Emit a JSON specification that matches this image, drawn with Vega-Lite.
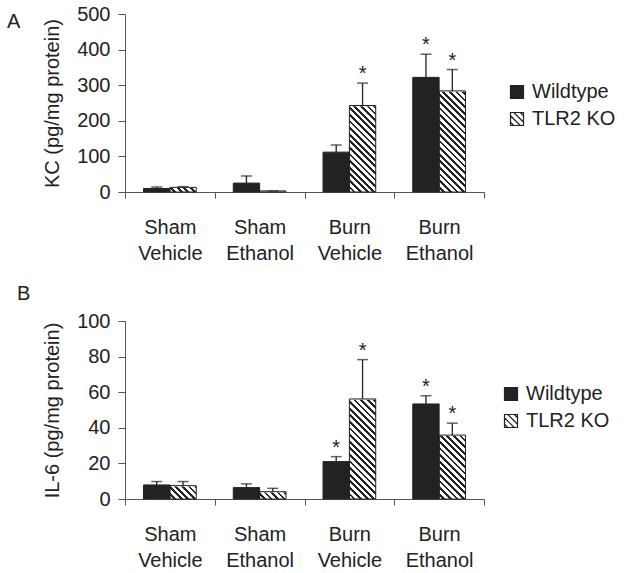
{
"$schema": "https://vega.github.io/schema/vega-lite/v6.json",
"padding": {"left": 7, "top": 4, "right": 0, "bottom": 0},
"spacing": 21,
"background": "white",
"config": {
 "font": "Liberation Sans",
 "view": {"stroke": null},
 "axis": {"labelFont": "Liberation Sans", "titleFont": "Liberation Sans", "labelFontSize": 20, "titleFontSize": 20, "titleFontWeight": "normal", "labelColor": "#222222", "titleColor": "#222222", "domainColor": "#555555", "tickColor": "#555555", "domainWidth": 1, "tickWidth": 1, "grid": false},
 "axisY": {"labelOverlap": false, "labelFlush": false, "labelSeparation": -40},
 "legend": {"labelFont": "Liberation Sans", "labelFontSize": 20, "labelColor": "#222222", "symbolSize": 169, "symbolStrokeWidth": 1.2, "symbolOpacity": 1, "labelOffset": 5, "rowPadding": 7, "padding": 0},
 "text": {"font": "Liberation Sans"}
},
"resolve": {"scale": {"fill": "independent", "shape": "independent", "stroke": "independent", "y": "independent"}, "legend": {"fill": "independent", "shape": "independent", "stroke": "independent"}},
"vconcat": [
{
 "width": 359, "height": 178,
 "title": {"text": "A", "anchor": "start", "frame": "group", "orient": "top", "baseline": "alphabetic", "offset": 0, "dx": -118, "dy": 44, "fontSize": 20, "fontWeight": "normal", "color": "#222222", "font": "Liberation Sans"},
 "data": {"values": [
  {"cond": "Sham Vehicle", "genotype": "Wildtype", "value": 10, "hi": 14, "star": false},
  {"cond": "Sham Vehicle", "genotype": "TLR2 KO", "value": 13, "hi": 15, "star": false},
  {"cond": "Sham Ethanol", "genotype": "Wildtype", "value": 25, "hi": 45, "star": false},
  {"cond": "Sham Ethanol", "genotype": "TLR2 KO", "value": 3, "hi": 3, "star": false},
  {"cond": "Burn Vehicle", "genotype": "Wildtype", "value": 112, "hi": 132, "star": false},
  {"cond": "Burn Vehicle", "genotype": "TLR2 KO", "value": 243, "hi": 306, "star": true},
  {"cond": "Burn Ethanol", "genotype": "Wildtype", "value": 322, "hi": 387, "star": true},
  {"cond": "Burn Ethanol", "genotype": "TLR2 KO", "value": 284, "hi": 344, "star": true}
 ]},
 "encoding": {
  "x": {"field": "cond", "type": "nominal", "sort": ["Sham Vehicle", "Sham Ethanol", "Burn Vehicle", "Burn Ethanol"], "scale": {"paddingInner": 0, "paddingOuter": 0}, "axis": {"title": null, "labelAngle": 0, "labelExpr": "split(datum.label, ' ')", "labelLineHeight": 26, "tickBand": "extent", "tickSize": 6, "labelPadding": 19}},
  "xOffset": {"field": "genotype", "type": "nominal", "scale": {"domain": ["Wildtype", "TLR2 KO"], "paddingInner": 0, "paddingOuter": 0.703}}
 },
 "layer": [
  {"transform": [{"filter": "datum.genotype === 'TLR2 KO'"}],
   "mark": {"type": "bar", "strokeWidth": 0, "fill": {"gradient": "linear", "x1": 1, "y1": 0, "x2": 0.8337, "y2": 1.1234, "stops": [
{"offset":0,"color":"#222222"},{"offset":0.01355,"color":"#222222"},{"offset":0.01355,"color":"#ffffff"},{"offset":0.03226,"color":"#ffffff"},
{"offset":0.03226,"color":"#222222"},{"offset":0.04581,"color":"#222222"},{"offset":0.04581,"color":"#ffffff"},{"offset":0.06452,"color":"#ffffff"},
{"offset":0.06452,"color":"#222222"},{"offset":0.07807,"color":"#222222"},{"offset":0.07807,"color":"#ffffff"},{"offset":0.09677,"color":"#ffffff"},
{"offset":0.09677,"color":"#222222"},{"offset":0.11032,"color":"#222222"},{"offset":0.11032,"color":"#ffffff"},{"offset":0.12903,"color":"#ffffff"},
{"offset":0.12903,"color":"#222222"},{"offset":0.14258,"color":"#222222"},{"offset":0.14258,"color":"#ffffff"},{"offset":0.16129,"color":"#ffffff"},
{"offset":0.16129,"color":"#222222"},{"offset":0.17484,"color":"#222222"},{"offset":0.17484,"color":"#ffffff"},{"offset":0.19355,"color":"#ffffff"},
{"offset":0.19355,"color":"#222222"},{"offset":0.2071,"color":"#222222"},{"offset":0.2071,"color":"#ffffff"},{"offset":0.22581,"color":"#ffffff"},
{"offset":0.22581,"color":"#222222"},{"offset":0.23936,"color":"#222222"},{"offset":0.23936,"color":"#ffffff"},{"offset":0.25806,"color":"#ffffff"},
{"offset":0.25806,"color":"#222222"},{"offset":0.27161,"color":"#222222"},{"offset":0.27161,"color":"#ffffff"},{"offset":0.29032,"color":"#ffffff"},
{"offset":0.29032,"color":"#222222"},{"offset":0.30387,"color":"#222222"},{"offset":0.30387,"color":"#ffffff"},{"offset":0.32258,"color":"#ffffff"},
{"offset":0.32258,"color":"#222222"},{"offset":0.33613,"color":"#222222"},{"offset":0.33613,"color":"#ffffff"},{"offset":0.35484,"color":"#ffffff"},
{"offset":0.35484,"color":"#222222"},{"offset":0.36839,"color":"#222222"},{"offset":0.36839,"color":"#ffffff"},{"offset":0.3871,"color":"#ffffff"},
{"offset":0.3871,"color":"#222222"},{"offset":0.40065,"color":"#222222"},{"offset":0.40065,"color":"#ffffff"},{"offset":0.41935,"color":"#ffffff"},
{"offset":0.41935,"color":"#222222"},{"offset":0.4329,"color":"#222222"},{"offset":0.4329,"color":"#ffffff"},{"offset":0.45161,"color":"#ffffff"},
{"offset":0.45161,"color":"#222222"},{"offset":0.46516,"color":"#222222"},{"offset":0.46516,"color":"#ffffff"},{"offset":0.48387,"color":"#ffffff"},
{"offset":0.48387,"color":"#222222"},{"offset":0.49742,"color":"#222222"},{"offset":0.49742,"color":"#ffffff"},{"offset":0.51613,"color":"#ffffff"},
{"offset":0.51613,"color":"#222222"},{"offset":0.52968,"color":"#222222"},{"offset":0.52968,"color":"#ffffff"},{"offset":0.54839,"color":"#ffffff"},
{"offset":0.54839,"color":"#222222"},{"offset":0.56194,"color":"#222222"},{"offset":0.56194,"color":"#ffffff"},{"offset":0.58065,"color":"#ffffff"},
{"offset":0.58065,"color":"#222222"},{"offset":0.5942,"color":"#222222"},{"offset":0.5942,"color":"#ffffff"},{"offset":0.6129,"color":"#ffffff"},
{"offset":0.6129,"color":"#222222"},{"offset":0.62645,"color":"#222222"},{"offset":0.62645,"color":"#ffffff"},{"offset":0.64516,"color":"#ffffff"},
{"offset":0.64516,"color":"#222222"},{"offset":0.65871,"color":"#222222"},{"offset":0.65871,"color":"#ffffff"},{"offset":0.67742,"color":"#ffffff"},
{"offset":0.67742,"color":"#222222"},{"offset":0.69097,"color":"#222222"},{"offset":0.69097,"color":"#ffffff"},{"offset":0.70968,"color":"#ffffff"},
{"offset":0.70968,"color":"#222222"},{"offset":0.72323,"color":"#222222"},{"offset":0.72323,"color":"#ffffff"},{"offset":0.74194,"color":"#ffffff"},
{"offset":0.74194,"color":"#222222"},{"offset":0.75549,"color":"#222222"},{"offset":0.75549,"color":"#ffffff"},{"offset":0.77419,"color":"#ffffff"},
{"offset":0.77419,"color":"#222222"},{"offset":0.78774,"color":"#222222"},{"offset":0.78774,"color":"#ffffff"},{"offset":0.80645,"color":"#ffffff"},
{"offset":0.80645,"color":"#222222"},{"offset":0.82,"color":"#222222"},{"offset":0.82,"color":"#ffffff"},{"offset":0.83871,"color":"#ffffff"},
{"offset":0.83871,"color":"#222222"},{"offset":0.85226,"color":"#222222"},{"offset":0.85226,"color":"#ffffff"},{"offset":0.87097,"color":"#ffffff"},
{"offset":0.87097,"color":"#222222"},{"offset":0.88452,"color":"#222222"},{"offset":0.88452,"color":"#ffffff"},{"offset":0.90323,"color":"#ffffff"},
{"offset":0.90323,"color":"#222222"},{"offset":0.91678,"color":"#222222"},{"offset":0.91678,"color":"#ffffff"},{"offset":0.93548,"color":"#ffffff"},
{"offset":0.93548,"color":"#222222"},{"offset":0.94903,"color":"#222222"},{"offset":0.94903,"color":"#ffffff"},{"offset":0.96774,"color":"#ffffff"},
{"offset":0.96774,"color":"#222222"},{"offset":0.98129,"color":"#222222"},{"offset":0.98129,"color":"#ffffff"},{"offset":1,"color":"#ffffff"}
   ]}},
   "encoding": {
    "y": {"datum": 500, "type": "quantitative", "scale": {"domain": [0, 500], "nice": false}, "axis": {"title": "KC (pg/mg protein)", "values": [0, 100, 200, 300, 400, 500], "labelOverlap": false, "labelSeparation": -40, "labelFlush": false, "tickSize": 7, "labelPadding": 8, "titlePadding": 14}},
    "y2": {"datum": 0}
   }
  },
  {"transform": [{"filter": "datum.genotype === 'TLR2 KO'"}],
   "mark": {"type": "bar", "fill": "#ffffff", "stroke": "#ffffff", "strokeWidth": 1.5},
   "encoding": {"y": {"field": "value", "type": "quantitative", "axis": {"title": "KC (pg/mg protein)", "values": [0, 100, 200, 300, 400, 500], "labelOverlap": false, "labelSeparation": -40, "labelFlush": false, "tickSize": 7, "labelPadding": 8, "titlePadding": 14}}, "y2": {"datum": 500}}
  },
  {"mark": {"type": "bar", "stroke": "#222222", "strokeWidth": 1},
   "encoding": {
    "y": {"field": "value", "type": "quantitative", "axis": {"title": "KC (pg/mg protein)", "values": [0, 100, 200, 300, 400, 500], "labelOverlap": false, "labelSeparation": -40, "labelFlush": false, "tickSize": 7, "labelPadding": 8, "titlePadding": 14}},
    "fill": {"condition": {"test": "datum.genotype === 'Wildtype'", "value": "#222222"}, "value": "rgba(255,255,255,0)"}
   }
  },
  {"transform": [{"filter": "false"}],
   "mark": {"type": "point", "filled": true, "size": 169, "strokeWidth": 1.2, "opacity": 1},
   "encoding": {
    "y": {"field": "value", "type": "quantitative", "axis": {"title": "KC (pg/mg protein)", "values": [0, 100, 200, 300, 400, 500], "labelOverlap": false, "labelSeparation": -40, "labelFlush": false, "tickSize": 7, "labelPadding": 8, "titlePadding": 14}},
    "fill": {"field": "genotype", "type": "nominal", "scale": {"domain": ["Wildtype", "TLR2 KO"], "range": ["#222222", "rgba(255,255,255,0)"]},
     "legend": {"title": null, "orient": "none", "legendX": 382, "legendY": 68}},
    "stroke": {"field": "genotype", "type": "nominal", "scale": {"domain": ["Wildtype", "TLR2 KO"], "range": ["#222222", "#222222"]},
     "legend": {"title": null, "orient": "none", "legendX": 382, "legendY": 68}},
    "shape": {"field": "genotype", "type": "nominal", "scale": {"domain": ["Wildtype", "TLR2 KO"], "range": ["square", "M-1,-1H1V1H-1Z M-0.5,-1L1,0.5 M-1,-0.5L0.5,1 M0.5,-1L1,-0.5 M-1,0.5L-0.5,1"]},
     "legend": {"title": null, "orient": "none", "legendX": 382, "legendY": 68}}
   }
  },
  {"mark": {"type": "rule", "color": "#222222", "strokeWidth": 1.3},
   "encoding": {"y": {"field": "value", "type": "quantitative", "axis": {"title": "KC (pg/mg protein)", "values": [0, 100, 200, 300, 400, 500], "labelOverlap": false, "labelSeparation": -40, "labelFlush": false, "tickSize": 7, "labelPadding": 8, "titlePadding": 14}}, "y2": {"field": "hi"}}
  },
  {"mark": {"type": "tick", "color": "#222222", "size": 11, "thickness": 1.5, "orient": "horizontal"},
   "encoding": {"y": {"field": "hi", "type": "quantitative", "axis": {"title": "KC (pg/mg protein)", "values": [0, 100, 200, 300, 400, 500], "labelOverlap": false, "labelSeparation": -40, "labelFlush": false, "tickSize": 7, "labelPadding": 8, "titlePadding": 14}}}
  },
  {"transform": [{"filter": "datum.star"}],
   "mark": {"type": "text", "text": "*", "fontSize": 20, "baseline": "alphabetic", "dy": -3, "color": "#222222"},
   "encoding": {"y": {"field": "hi", "type": "quantitative", "axis": {"title": "KC (pg/mg protein)", "values": [0, 100, 200, 300, 400, 500], "labelOverlap": false, "labelSeparation": -40, "labelFlush": false, "tickSize": 7, "labelPadding": 8, "titlePadding": 14}}}
  }
 ]
},
{
 "width": 359, "height": 178,
 "title": {"text": "B", "anchor": "start", "frame": "group", "orient": "top", "baseline": "alphabetic", "offset": 0, "dx": -108, "dy": 9, "fontSize": 20, "fontWeight": "normal", "color": "#222222", "font": "Liberation Sans"},
 "data": {"values": [
  {"cond": "Sham Vehicle", "genotype": "Wildtype", "value": 7.9, "hi": 9.8, "star": false},
  {"cond": "Sham Vehicle", "genotype": "TLR2 KO", "value": 7.5, "hi": 9.8, "star": false},
  {"cond": "Sham Ethanol", "genotype": "Wildtype", "value": 6.4, "hi": 8.5, "star": false},
  {"cond": "Sham Ethanol", "genotype": "TLR2 KO", "value": 4.1, "hi": 6.0, "star": false},
  {"cond": "Burn Vehicle", "genotype": "Wildtype", "value": 21, "hi": 23.8, "star": true},
  {"cond": "Burn Vehicle", "genotype": "TLR2 KO", "value": 56.2, "hi": 78.3, "star": true},
  {"cond": "Burn Ethanol", "genotype": "Wildtype", "value": 53.4, "hi": 58, "star": true},
  {"cond": "Burn Ethanol", "genotype": "TLR2 KO", "value": 35.9, "hi": 42.6, "star": true}
 ]},
 "encoding": {
  "x": {"field": "cond", "type": "nominal", "sort": ["Sham Vehicle", "Sham Ethanol", "Burn Vehicle", "Burn Ethanol"], "scale": {"paddingInner": 0, "paddingOuter": 0}, "axis": {"title": null, "labelAngle": 0, "labelExpr": "split(datum.label, ' ')", "labelLineHeight": 26, "tickBand": "extent", "tickSize": 6, "labelPadding": 19}},
  "xOffset": {"field": "genotype", "type": "nominal", "scale": {"domain": ["Wildtype", "TLR2 KO"], "paddingInner": 0, "paddingOuter": 0.703}}
 },
 "layer": [
  {"transform": [{"filter": "datum.genotype === 'TLR2 KO'"}],
   "mark": {"type": "bar", "strokeWidth": 0, "fill": {"gradient": "linear", "x1": 1, "y1": 0, "x2": 0.8337, "y2": 1.1234, "stops": [
{"offset":0,"color":"#222222"},{"offset":0.01355,"color":"#222222"},{"offset":0.01355,"color":"#ffffff"},{"offset":0.03226,"color":"#ffffff"},
{"offset":0.03226,"color":"#222222"},{"offset":0.04581,"color":"#222222"},{"offset":0.04581,"color":"#ffffff"},{"offset":0.06452,"color":"#ffffff"},
{"offset":0.06452,"color":"#222222"},{"offset":0.07807,"color":"#222222"},{"offset":0.07807,"color":"#ffffff"},{"offset":0.09677,"color":"#ffffff"},
{"offset":0.09677,"color":"#222222"},{"offset":0.11032,"color":"#222222"},{"offset":0.11032,"color":"#ffffff"},{"offset":0.12903,"color":"#ffffff"},
{"offset":0.12903,"color":"#222222"},{"offset":0.14258,"color":"#222222"},{"offset":0.14258,"color":"#ffffff"},{"offset":0.16129,"color":"#ffffff"},
{"offset":0.16129,"color":"#222222"},{"offset":0.17484,"color":"#222222"},{"offset":0.17484,"color":"#ffffff"},{"offset":0.19355,"color":"#ffffff"},
{"offset":0.19355,"color":"#222222"},{"offset":0.2071,"color":"#222222"},{"offset":0.2071,"color":"#ffffff"},{"offset":0.22581,"color":"#ffffff"},
{"offset":0.22581,"color":"#222222"},{"offset":0.23936,"color":"#222222"},{"offset":0.23936,"color":"#ffffff"},{"offset":0.25806,"color":"#ffffff"},
{"offset":0.25806,"color":"#222222"},{"offset":0.27161,"color":"#222222"},{"offset":0.27161,"color":"#ffffff"},{"offset":0.29032,"color":"#ffffff"},
{"offset":0.29032,"color":"#222222"},{"offset":0.30387,"color":"#222222"},{"offset":0.30387,"color":"#ffffff"},{"offset":0.32258,"color":"#ffffff"},
{"offset":0.32258,"color":"#222222"},{"offset":0.33613,"color":"#222222"},{"offset":0.33613,"color":"#ffffff"},{"offset":0.35484,"color":"#ffffff"},
{"offset":0.35484,"color":"#222222"},{"offset":0.36839,"color":"#222222"},{"offset":0.36839,"color":"#ffffff"},{"offset":0.3871,"color":"#ffffff"},
{"offset":0.3871,"color":"#222222"},{"offset":0.40065,"color":"#222222"},{"offset":0.40065,"color":"#ffffff"},{"offset":0.41935,"color":"#ffffff"},
{"offset":0.41935,"color":"#222222"},{"offset":0.4329,"color":"#222222"},{"offset":0.4329,"color":"#ffffff"},{"offset":0.45161,"color":"#ffffff"},
{"offset":0.45161,"color":"#222222"},{"offset":0.46516,"color":"#222222"},{"offset":0.46516,"color":"#ffffff"},{"offset":0.48387,"color":"#ffffff"},
{"offset":0.48387,"color":"#222222"},{"offset":0.49742,"color":"#222222"},{"offset":0.49742,"color":"#ffffff"},{"offset":0.51613,"color":"#ffffff"},
{"offset":0.51613,"color":"#222222"},{"offset":0.52968,"color":"#222222"},{"offset":0.52968,"color":"#ffffff"},{"offset":0.54839,"color":"#ffffff"},
{"offset":0.54839,"color":"#222222"},{"offset":0.56194,"color":"#222222"},{"offset":0.56194,"color":"#ffffff"},{"offset":0.58065,"color":"#ffffff"},
{"offset":0.58065,"color":"#222222"},{"offset":0.5942,"color":"#222222"},{"offset":0.5942,"color":"#ffffff"},{"offset":0.6129,"color":"#ffffff"},
{"offset":0.6129,"color":"#222222"},{"offset":0.62645,"color":"#222222"},{"offset":0.62645,"color":"#ffffff"},{"offset":0.64516,"color":"#ffffff"},
{"offset":0.64516,"color":"#222222"},{"offset":0.65871,"color":"#222222"},{"offset":0.65871,"color":"#ffffff"},{"offset":0.67742,"color":"#ffffff"},
{"offset":0.67742,"color":"#222222"},{"offset":0.69097,"color":"#222222"},{"offset":0.69097,"color":"#ffffff"},{"offset":0.70968,"color":"#ffffff"},
{"offset":0.70968,"color":"#222222"},{"offset":0.72323,"color":"#222222"},{"offset":0.72323,"color":"#ffffff"},{"offset":0.74194,"color":"#ffffff"},
{"offset":0.74194,"color":"#222222"},{"offset":0.75549,"color":"#222222"},{"offset":0.75549,"color":"#ffffff"},{"offset":0.77419,"color":"#ffffff"},
{"offset":0.77419,"color":"#222222"},{"offset":0.78774,"color":"#222222"},{"offset":0.78774,"color":"#ffffff"},{"offset":0.80645,"color":"#ffffff"},
{"offset":0.80645,"color":"#222222"},{"offset":0.82,"color":"#222222"},{"offset":0.82,"color":"#ffffff"},{"offset":0.83871,"color":"#ffffff"},
{"offset":0.83871,"color":"#222222"},{"offset":0.85226,"color":"#222222"},{"offset":0.85226,"color":"#ffffff"},{"offset":0.87097,"color":"#ffffff"},
{"offset":0.87097,"color":"#222222"},{"offset":0.88452,"color":"#222222"},{"offset":0.88452,"color":"#ffffff"},{"offset":0.90323,"color":"#ffffff"},
{"offset":0.90323,"color":"#222222"},{"offset":0.91678,"color":"#222222"},{"offset":0.91678,"color":"#ffffff"},{"offset":0.93548,"color":"#ffffff"},
{"offset":0.93548,"color":"#222222"},{"offset":0.94903,"color":"#222222"},{"offset":0.94903,"color":"#ffffff"},{"offset":0.96774,"color":"#ffffff"},
{"offset":0.96774,"color":"#222222"},{"offset":0.98129,"color":"#222222"},{"offset":0.98129,"color":"#ffffff"},{"offset":1,"color":"#ffffff"}
   ]}},
   "encoding": {
    "y": {"datum": 100, "type": "quantitative", "scale": {"domain": [0, 100], "nice": false}, "axis": {"title": "IL-6 (pg/mg protein)", "values": [0, 20, 40, 60, 80, 100], "labelOverlap": false, "labelSeparation": -40, "labelFlush": false, "tickSize": 7, "labelPadding": 8, "titlePadding": 14}},
    "y2": {"datum": 0}
   }
  },
  {"transform": [{"filter": "datum.genotype === 'TLR2 KO'"}],
   "mark": {"type": "bar", "fill": "#ffffff", "stroke": "#ffffff", "strokeWidth": 1.5},
   "encoding": {"y": {"field": "value", "type": "quantitative", "axis": {"title": "IL-6 (pg/mg protein)", "values": [0, 20, 40, 60, 80, 100], "labelOverlap": false, "labelSeparation": -40, "labelFlush": false, "tickSize": 7, "labelPadding": 8, "titlePadding": 14}}, "y2": {"datum": 100}}
  },
  {"mark": {"type": "bar", "stroke": "#222222", "strokeWidth": 1},
   "encoding": {
    "y": {"field": "value", "type": "quantitative", "axis": {"title": "IL-6 (pg/mg protein)", "values": [0, 20, 40, 60, 80, 100], "labelOverlap": false, "labelSeparation": -40, "labelFlush": false, "tickSize": 7, "labelPadding": 8, "titlePadding": 14}},
    "fill": {"condition": {"test": "datum.genotype === 'Wildtype'", "value": "#222222"}, "value": "rgba(255,255,255,0)"}
   }
  },
  {"transform": [{"filter": "false"}],
   "mark": {"type": "point", "filled": true, "size": 169, "strokeWidth": 1.2, "opacity": 1},
   "encoding": {
    "y": {"field": "value", "type": "quantitative", "axis": {"title": "IL-6 (pg/mg protein)", "values": [0, 20, 40, 60, 80, 100], "labelOverlap": false, "labelSeparation": -40, "labelFlush": false, "tickSize": 7, "labelPadding": 8, "titlePadding": 14}},
    "fill": {"field": "genotype", "type": "nominal", "scale": {"domain": ["Wildtype", "TLR2 KO"], "range": ["#222222", "rgba(255,255,255,0)"]},
     "legend": {"title": null, "orient": "none", "legendX": 376, "legendY": 63}},
    "stroke": {"field": "genotype", "type": "nominal", "scale": {"domain": ["Wildtype", "TLR2 KO"], "range": ["#222222", "#222222"]},
     "legend": {"title": null, "orient": "none", "legendX": 376, "legendY": 63}},
    "shape": {"field": "genotype", "type": "nominal", "scale": {"domain": ["Wildtype", "TLR2 KO"], "range": ["square", "M-1,-1H1V1H-1Z M-0.5,-1L1,0.5 M-1,-0.5L0.5,1 M0.5,-1L1,-0.5 M-1,0.5L-0.5,1"]},
     "legend": {"title": null, "orient": "none", "legendX": 376, "legendY": 63}}
   }
  },
  {"mark": {"type": "rule", "color": "#222222", "strokeWidth": 1.3},
   "encoding": {"y": {"field": "value", "type": "quantitative", "axis": {"title": "IL-6 (pg/mg protein)", "values": [0, 20, 40, 60, 80, 100], "labelOverlap": false, "labelSeparation": -40, "labelFlush": false, "tickSize": 7, "labelPadding": 8, "titlePadding": 14}}, "y2": {"field": "hi"}}
  },
  {"mark": {"type": "tick", "color": "#222222", "size": 11, "thickness": 1.5, "orient": "horizontal"},
   "encoding": {"y": {"field": "hi", "type": "quantitative", "axis": {"title": "IL-6 (pg/mg protein)", "values": [0, 20, 40, 60, 80, 100], "labelOverlap": false, "labelSeparation": -40, "labelFlush": false, "tickSize": 7, "labelPadding": 8, "titlePadding": 14}}}
  },
  {"transform": [{"filter": "datum.star"}],
   "mark": {"type": "text", "text": "*", "fontSize": 20, "baseline": "alphabetic", "dy": -3, "color": "#222222"},
   "encoding": {"y": {"field": "hi", "type": "quantitative", "axis": {"title": "IL-6 (pg/mg protein)", "values": [0, 20, 40, 60, 80, 100], "labelOverlap": false, "labelSeparation": -40, "labelFlush": false, "tickSize": 7, "labelPadding": 8, "titlePadding": 14}}}
  }
 ]
}
]
}
